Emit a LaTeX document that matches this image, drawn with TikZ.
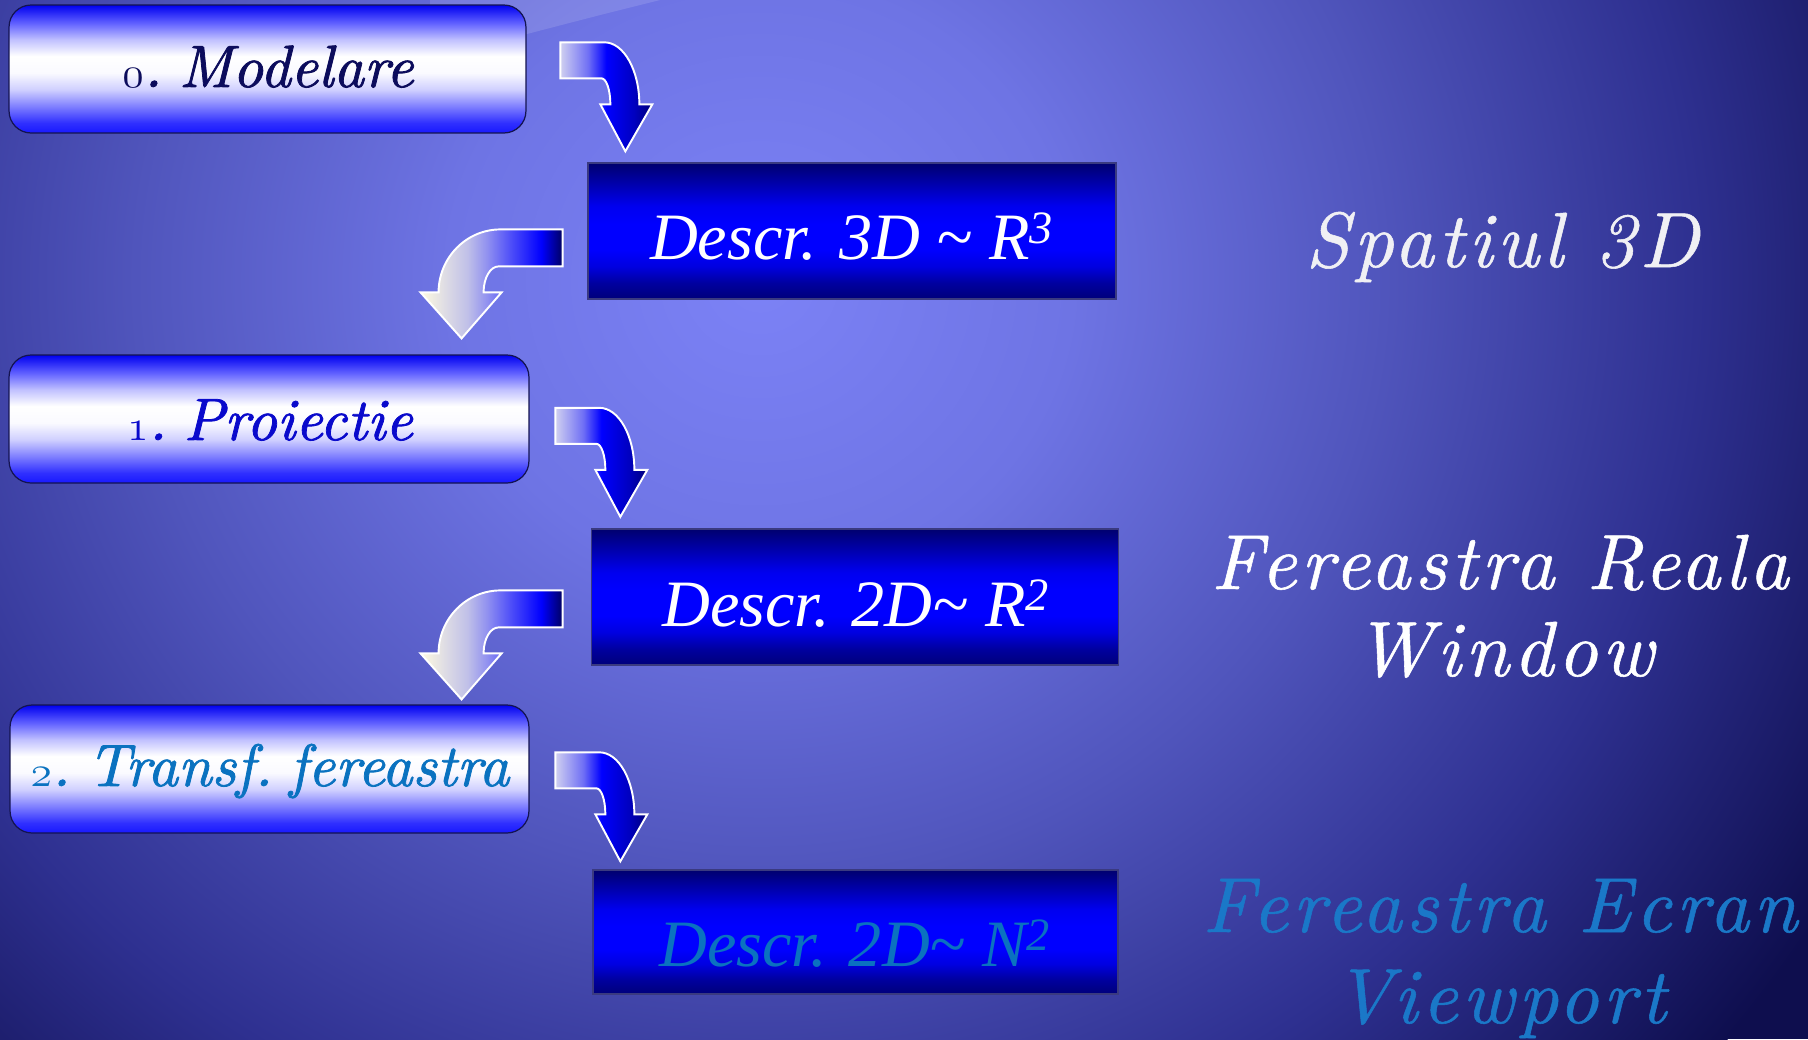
\documentclass[tikz,border=0pt]{standalone}
\usepackage{fontspec}
\usetikzlibrary{calc}
\newfontfamily\descrfont{Liberation Serif}
\newfontfamily\boxfont{lmroman10-italic.otf}[FakeBold=1.3, WordSpace=0.45]
\newfontfamily\sidefont{lmroman10-italic.otf}[LetterSpace=5.5, FakeBold=0.7]
\newcommand{\osnum}[1]{{\fontencoding{OML}\fontfamily{lmm}\fontseries{b}\fontshape{it}\fontsize{41}{44}\selectfont #1}}
\definecolor{bgA}{HTML}{7C82F6}
\definecolor{bgB}{HTML}{6E74E4}
\definecolor{bgC}{HTML}{5055BC}
\definecolor{bgD}{HTML}{2E3090}
\definecolor{bgE}{HTML}{0E0E4E}
\definecolor{lb1}{HTML}{1818FF}
\definecolor{lb2}{HTML}{3030FF}
\definecolor{lb3}{HTML}{8080FF}
\definecolor{lb4}{HTML}{D0D0FF}
\definecolor{lb5}{HTML}{FAFAFF}
\definecolor{lb6}{HTML}{C0C0FF}
\definecolor{lb7}{HTML}{6060FF}
\definecolor{lb8}{HTML}{0000F0}
\definecolor{db1}{HTML}{00007A}
\definecolor{db2}{HTML}{0000A0}
\definecolor{db3}{HTML}{0000E0}
\definecolor{db4}{HTML}{0000FF}
\definecolor{db5}{HTML}{0000F0}
\definecolor{db6}{HTML}{0000C0}
\definecolor{db7}{HTML}{00006E}
\definecolor{aa1}{HTML}{D0D0F0}
\definecolor{aa2}{HTML}{7070F5}
\definecolor{aa3}{HTML}{0000FF}
\definecolor{aa4}{HTML}{0000C0}
\definecolor{aa5}{HTML}{00007A}
\definecolor{ab1}{HTML}{FFFBE0}
\definecolor{ab2}{HTML}{C0C0E8}
\definecolor{ab3}{HTML}{9090F0}
\definecolor{ab4}{HTML}{5050F8}
\definecolor{ab5}{HTML}{0000FF}
\definecolor{ab6}{HTML}{000060}
\definecolor{lboxline}{HTML}{141450}
\definecolor{dboxline}{HTML}{3A3A80}
\definecolor{txnavy}{HTML}{0C0C5C}
\definecolor{txblue}{HTML}{0A0ACC}
\definecolor{txsteel}{HTML}{0A72C0}
\definecolor{txsilver}{HTML}{F0F0F4}
\definecolor{txlblue}{HTML}{1A78C8}
\pgfdeclareradialshading{bgshade}{\pgfpoint{0bp}{0bp}}{color(0bp)=(bgA); color(6.25bp)=(bgB); color(12.5bp)=(bgC); color(18.75bp)=(bgD); color(25bp)=(bgE); color(50bp)=(bgE)}
\pgfdeclareverticalshading{lboxshade}{100bp}{color(0bp)=(lb1); color(25bp)=(lb1); color(29bp)=(lb2); color(35.5bp)=(lb3); color(42bp)=(lb4); color(48.5bp)=(lb5); color(55bp)=(white); color(61.5bp)=(lb6); color(68bp)=(lb7); color(75bp)=(lb8); color(100bp)=(lb8)}
\pgfdeclareverticalshading{dboxshade}{100bp}{color(0bp)=(db1); color(25bp)=(db1); color(31bp)=(db2); color(37bp)=(db3); color(43bp)=(db4); color(52.5bp)=(db4); color(59bp)=(db5); color(65bp)=(db6); color(75bp)=(db7); color(100bp)=(db7)}
\pgfdeclarehorizontalshading{arrAshade}{100bp}{color(0bp)=(aa1); color(25bp)=(aa1); color(40bp)=(aa2); color(50bp)=(aa3); color(65bp)=(aa4); color(75bp)=(aa5); color(100bp)=(aa5)}
\pgfdeclarehorizontalshading{arrBshade}{100bp}{color(0bp)=(ab1); color(25bp)=(ab1); color(41.5bp)=(ab2); color(48.5bp)=(ab3); color(56.5bp)=(ab4); color(67.5bp)=(ab5); color(75bp)=(ab6); color(100bp)=(ab6)}
\tikzset{
  lbox/.style={draw=lboxline, line width=0.7pt, rounded corners=0.44cm, shade, shading=lboxshade, minimum height=2.56cm, inner sep=0pt},
  dbox/.style={draw=dboxline, line width=0.8pt, shade, shading=dboxshade, inner sep=0pt},
  ltext/.style={font=\boxfont\fontsize{34}{38}\selectfont, anchor=base, inner sep=0pt},
  dtext/.style={font=\descrfont\fontsize{37.7}{42}\selectfont\itshape, anchor=base, inner sep=0pt},
  rtext/.style={font=\sidefont\fontsize{44.5}{48}\selectfont, anchor=base, inner sep=0pt},
  arrowline/.style={draw=white, line width=1.1pt, line join=miter},
  pics/arrowA/.style={code={
    \shade[arrowline, shading=arrAshade]
      (-65,-109) -- (-21,-109) .. controls (-1.7,-109) and (14,-81.2) .. (14,-47)
      -- (27,-47) -- (0,0) -- (-25,-47) -- (-15,-47)
      .. controls (-15,-61.4) and (-19,-73) .. (-24,-73) -- (-65,-73) -- cycle;
  }},
  pics/arrowB/.style={code={
    \shade[arrowline, shading=arrBshade]
      (101,-109) -- (101,-72) -- (37,-72) .. controls (28.7,-72) and (22,-60.4) .. (22,-46)
      -- (40,-46) -- (0,0) -- (-41,-46) -- (-23,-46)
      .. controls (-23,-80.8) and (4.8,-109) .. (39,-109) -- cycle;
  }}
}
\begin{document}
\begin{tikzpicture}[x=0.02cm, y=-0.02cm]
\useasboundingbox (0,0) rectangle (1808,1039);
% background
\fill[bgE] (0,0) rectangle (1808,1039);
\begin{scope}
  \clip (0,0) rectangle (1808,1039);
  \shade[shading=bgshade] (760,280) ellipse [x radius=25cm, y radius=24cm];
  \fill[white, opacity=0.13] (430,0) -- (660,0) .. controls (600,15) .. (527,34) -- (430,58) -- cycle;
\end{scope}
% left rounded boxes
\node[lbox, minimum width=10.34cm] (m0) at (267.5,69) {};
\node[lbox, minimum width=10.40cm] (m1) at (269,419) {};
\node[lbox, minimum width=10.38cm] (m2) at (269.5,769) {};
\node[ltext, text=txnavy] (t0) at (268,87) {\osnum{0}. Modelare};
\node[ltext, text=txblue] (t1) at (270,440) {\osnum{1}. Proiectie};
\node[ltext, text=txsteel] (t2) at (270,786) {\osnum{2}. Transf. fereastra};
% description boxes
\node[dbox, minimum width=10.56cm, minimum height=2.72cm] (d3) at (852,231) {};
\node[dbox, minimum width=10.54cm, minimum height=2.72cm] (d2) at (855,597) {};
\node[dbox, minimum width=10.50cm, minimum height=2.48cm] (n2) at (855.5,932) {};
\node[dtext, text=white] (td3) at (852,259) {Descr. 3D \textasciitilde{} R\textsuperscript{3}};
\node[dtext, text=white] (td2) at (856,626) {Descr. 2D\textasciitilde{} R\textsuperscript{2}};
\node[dtext, text=txsteel] (tn2) at (855,966) {Descr. 2D\textasciitilde{} N\textsuperscript{2}};
% right labels
\node[rtext, text=txsilver] (s3) at (1502,267) {Spatiul 3D};
\node[rtext, text=white] (fr) at (1500,589) {Fereastra Reala};
\node[rtext, text=white] (wi) at (1504,676) {Window};
\node[rtext, text=txlblue] (fe) at (1500,932) {Fereastra Ecran};
\node[rtext, text=txlblue] (vp) at (1500,1023) {Viewport};
% curved block arrows
\pic at ($(d3.north west)+(38,-11)$) {arrowA};
\pic at ($(d2.north west)+(29.5,-11.5)$) {arrowA};
\pic at ($(n2.north west)+(28,-8)$) {arrowA};
\pic at ($(m1.north east)+(-68,-16)$) {arrowB};
\pic at ($(m2.north east)+(-68,-5)$) {arrowB};
\end{tikzpicture}
\end{document}
